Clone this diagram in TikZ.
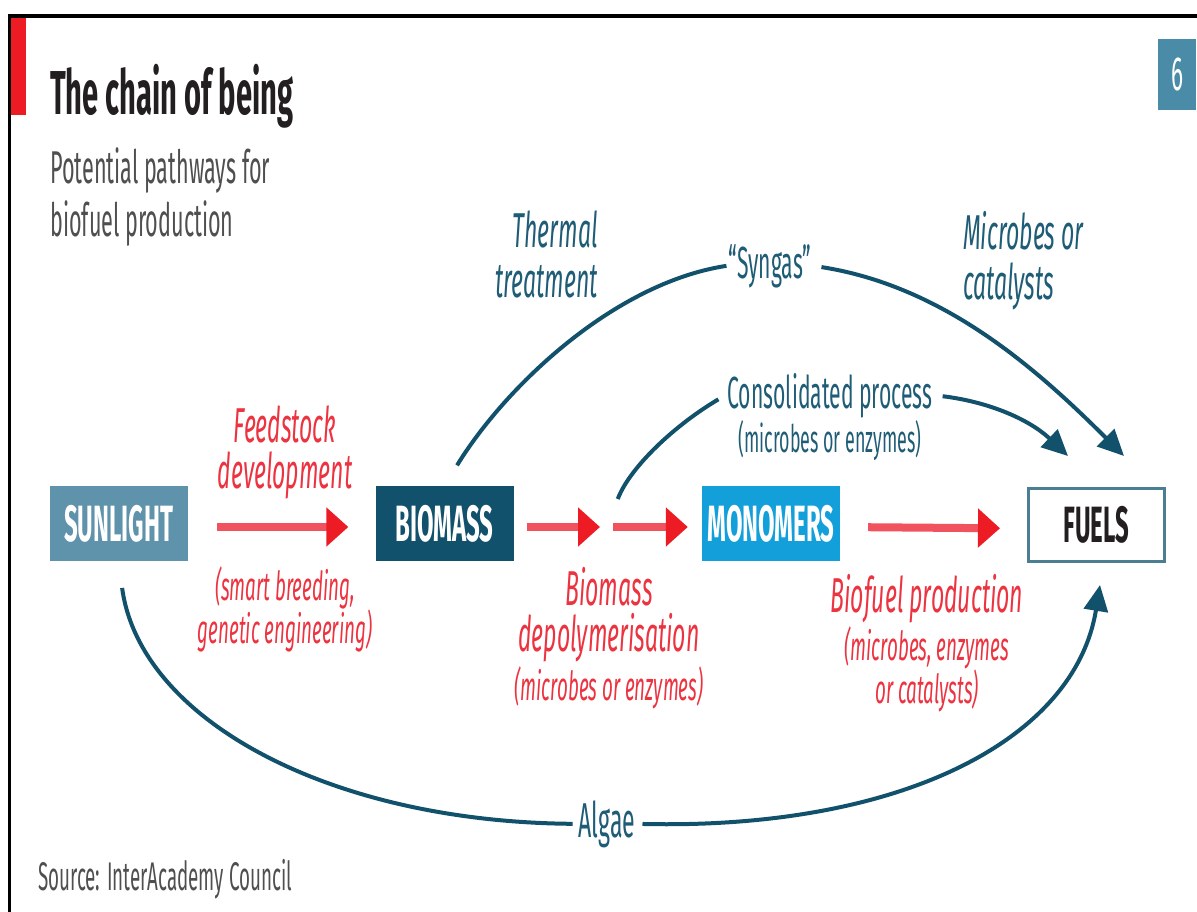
\documentclass[tikz,border=0pt]{standalone}
\usepackage{fontspec}
\setmainfont{Fira Sans}[FakeStretch=0.47]
\usetikzlibrary{positioning, arrows.meta, calc}
\definecolor{ecred}{HTML}{ED1C24}
\definecolor{ecredtext}{HTML}{EC3340}
\definecolor{ecpink}{HTML}{F0535D}
\definecolor{ecteal}{HTML}{12516C}
\definecolor{ectealtext}{HTML}{1F5C76}
\definecolor{ecsun}{HTML}{5E93AB}
\definecolor{ecmono}{HTML}{13A0DA}
\definecolor{ecframe}{HTML}{4C7E93}
\definecolor{ecnum}{HTML}{4A8BA8}
\definecolor{ecgray}{HTML}{4F4F4F}
\definecolor{ecdark}{HTML}{231F20}

\tikzset{
  stage/.style={minimum width=138pt, minimum height=75pt, inner sep=0pt,
    font=\fontsize{51}{51}\selectfont\bfseries, text=white},
  feed/.style={line width=8pt, ecpink, -{Triangle[length=22pt, width=38pt, color=ecred]}},
  routeline/.style={line width=4pt, ecteal},
  route/.style={routeline, -{Triangle[length=26pt, width=24pt]}},
  redlbl/.style={text=ecredtext, font=\fontsize{49}{46}\selectfont\itshape, align=center, inner sep=2pt},
  redsub/.style={redlbl, font=\fontsize{40}{42}\selectfont\itshape},
  teallbl/.style={text=ectealtext, font=\fontsize{49}{50}\selectfont, inner sep=2pt},
}

\begin{document}
\begin{tikzpicture}[x=1pt, y=-1pt]
  \useasboundingbox (0,0) rectangle (1197,912);
  % frame and heading
  \draw[line width=4pt] (8,16) -- (1197,16);
  \draw[line width=3pt] (9.5,14) -- (9.5,912);
  \fill[ecred] (11,18) rectangle (26,115);
  \node[anchor=base west, inner sep=0pt, text=ecdark, font=\fontsize{62}{62}\selectfont\bfseries] (title) at (50,115) {The chain of being};
  \node[anchor=north west, inner sep=0pt, align=left, text=ecgray, font=\fontsize{46}{53}\selectfont] (subtitle) at (50,147) {Potential pathways for\\biofuel production};
  \node[fill=ecnum, minimum width=38pt, minimum height=71pt, inner sep=0pt, text=white, font=\fontsize{48}{48}\selectfont] (num) at (1177,74.5) {6};

  % stages
  \node[stage, fill=ecsun] (sun) at (118.5,523.5) {SUNLIGHT};
  \node[stage, fill=ecteal] (bio) at (444.5,523.5) {BIOMASS};
  \node[stage, fill=ecmono] (mono) at (771,523.5) {MONOMERS};
  \node[stage, draw=ecframe, line width=3pt, fill=white, text=ecdark, minimum width=136pt, minimum height=73pt] (fuel) at (1096.5,525) {FUELS};
  \coordinate (split) at (607,527);
  \coordinate (syntip) at (1124,456);
  \coordinate (contip) at (1068,456);
  \coordinate (algtip) at (1100,585);

  % red chain
  \draw[feed, shorten <=29.5pt, shorten >=27pt] ([yshift=-3.5pt]sun.east) -- ([yshift=-3.5pt]bio.west);
  \draw[feed, shorten <=13pt, shorten >=7pt] ([yshift=-3.5pt]bio.east) -- (split);
  \draw[feed, shorten <=6pt, shorten >=14pt] (split) -- ([yshift=-3.5pt]mono.west);
  \draw[feed, shorten <=28pt, shorten >=27pt] ([yshift=-3.5pt]mono.east) -- ([yshift=-3.5pt]fuel.west);

  % red labels
  \node[redlbl, anchor=north] (feedstock) at (285,404) {Feedstock\\development};
  \node[redsub, anchor=north] (breeding) at (285,564) {(smart breeding,\\genetic engineering)};
  \node[redlbl, anchor=north] (depol) at (609,565) {Biomass\\depolymerisation};
  \node[redsub, anchor=base] (depolsub) at (609,700) {(microbes or enzymes)};
  \node[redlbl, anchor=base] (biofuel) at (927,612) {Biofuel production};
  \node[redsub, anchor=north] (biofuelsub) at (927,624) {(microbes, enzymes\\or catalysts)};

  % teal labels
  \node[teallbl, font=\fontsize{49}{50}\selectfont\itshape, align=right, anchor=north east] (thermal) at (600,209) {Thermal\\treatment};
  \node[teallbl, font=\fontsize{49}{50}\selectfont\itshape, align=left, anchor=north west] (catal) at (961,209) {Microbes or\\catalysts};
  \node[teallbl, font=\fontsize{45}{45}\selectfont, anchor=base] (syngas) at (770,278) {“Syngas”};
  \node[teallbl, font=\fontsize{45}{45}\selectfont, anchor=base] (consol) at (830,408) {Consolidated process};
  \node[teallbl, font=\fontsize{38}{38}\selectfont, anchor=base] (consolsub) at (830,452) {(microbes or enzymes)};
  \node[teallbl, anchor=base] (algae) at (607,837) {Algae};

  % teal routes
  \draw[routeline, shorten <=24pt] (bio.north) .. controls (505,387) and (614,283) .. (syngas.west);
  \draw[route, shorten <=8pt] (syngas.east) .. controls (942,286) and (1034,366) .. (syntip);
  \draw[routeline, shorten <=30pt, shorten >=8pt] (split) .. controls (630,467) and (675,425) .. (consol.west);
  \draw[route, shorten <=8pt] (consol.east) .. controls (990,402) and (1030,420) .. (contip);
  \draw[routeline, shorten <=27pt, shorten >=4pt] (sun.south) .. controls (140,720) and (330,822) .. (algae.west);
  \draw[route, shorten <=5pt] (algae.east) .. controls (900,830) and (1075,740) .. (algtip);

  \node[anchor=base west, inner sep=0pt, text=ecgray, font=\fontsize{40}{40}\selectfont] (source) at (38,890) {Source: InterAcademy Council};
\end{tikzpicture}
\end{document}
